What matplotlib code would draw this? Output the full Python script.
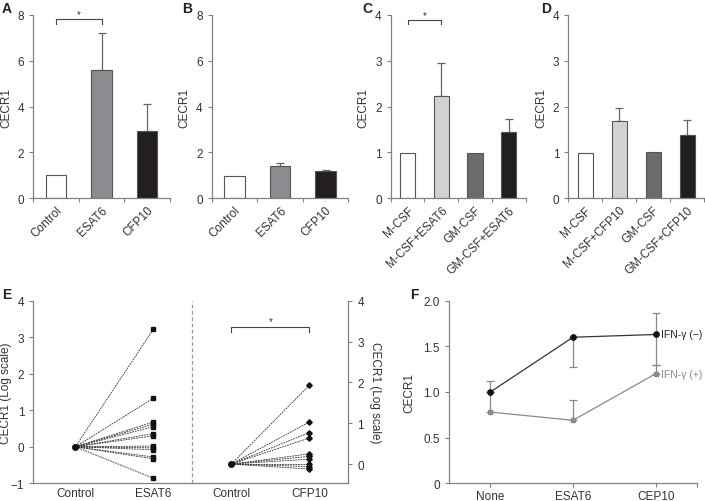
import matplotlib
matplotlib.use('Agg')
import matplotlib.pyplot as plt
import numpy as np

plt.rcParams['font.family'] = ['Liberation Sans', 'DejaVu Sans']
plt.rcParams['font.size'] = 8.5

# ---------------- data ----------------
a_cats = ['Control', 'ESAT6', 'CFP10']
a_vals = [1.0, 5.58, 2.92]
a_err = [0, 1.63, 1.18]

b_cats = ['Control', 'ESAT6', 'CFP10']
b_vals = [0.97, 1.40, 1.21]
b_err = [0, 0.13, 0.03]

c_cats = ['M-CSF', 'M-CSF+ESAT6', 'GM-CSF', 'GM-CSF+ESAT6']
c_vals = [0.98, 2.23, 0.99, 1.44]
c_err = [0, 0.72, 0, 0.30]

d_cats = ['M-CSF', 'M-CSF+CFP10', 'GM-CSF', 'GM-CSF+CFP10']
d_vals = [0.98, 1.68, 1.00, 1.38]
d_err = [0, 0.30, 0, 0.32]

e_labels = ['Control', 'ESAT6', 'Control', 'CFP10']
e_esat6 = [3.22, 1.33, 0.68, 0.62, 0.55, 0.36, 0.30, 0.02, -0.03, -0.08, -0.28, -0.33, -0.86]
e_cfp10 = [1.93, 1.03, 0.77, 0.64, 0.25, 0.19, 0.12, 0.0, -0.06, -0.12]

f_cats = ['None', 'ESAT6', 'CEP10']
f_neg = [1.0, 1.60, 1.63]
f_neg_lo = [0, 0.33, 0.33]
f_neg_hi = [0.12, 0, 0.24]
f_pos = [0.78, 0.69, 1.20]
f_pos_lo = [0, 0, 0]
f_pos_hi = [0.22, 0.22, 0.10]

W, H = 705, 502
SPINE = '#808080'
TXT = '#333333'
fig = plt.figure(figsize=(W / 100, H / 100), dpi=100)


def rect(l, r, t, b):
    return [l / W, (H - b) / H, (r - l) / W, (b - t) / H]


def style_ax(ax):
    for s in ['top', 'right']:
        ax.spines[s].set_visible(False)
    for s in ['left', 'bottom']:
        ax.spines[s].set_color(SPINE)
        ax.spines[s].set_linewidth(0.9)
    ax.tick_params(colors=SPINE, labelcolor=TXT, length=3, width=0.8, labelsize=8.5)


def bar_panel(r, cats, vals, errs, colors, ymax, yticks, sig=None):
    ax = fig.add_axes(r)
    style_ax(ax)
    n = len(cats)
    x = np.arange(n)
    ax.bar(x, vals, width=0.45, color=colors, edgecolor='#555555', linewidth=0.8, zorder=2)
    for xi, v, e in zip(x, vals, errs):
        if e > 0:
            ax.errorbar([xi], [v], yerr=[[0], [e]], fmt='none', ecolor='#666666',
                        elinewidth=0.9, capsize=3, capthick=0.9, zorder=1)
    ax.set_xlim(-0.5, n - 0.5)
    ax.set_ylim(0, ymax)
    ax.set_yticks(yticks)
    ax.set_xticks(np.arange(n + 1) - 0.5)
    ax.set_xticklabels([])
    ax.set_xticks(x, minor=True)
    ax.set_xticklabels(cats, minor=True, rotation=45, ha='right', rotation_mode='anchor')
    ax.tick_params(axis='x', which='minor', length=0, pad=4, labelcolor=TXT, labelsize=8.5)
    ax.set_ylabel('CECR1', color=TXT, fontsize=8.5, labelpad=4)
    if sig is not None:
        x0, x1, yb, yt, ys = sig
        ax.plot([x0, x0, x1, x1], [yb, yt, yt, yb], color='#444444', lw=0.8, clip_on=False)
        ax.text((x0 + x1) / 2, ys, '*', ha='center', va='center', fontsize=7, color=TXT)
    return ax


bar_panel(rect(33.3, 170, 16, 199.3), a_cats, a_vals, a_err,
          ['white', '#8b8c8f', '#231f20'], 8, [0, 2, 4, 6, 8], sig=(0, 1, 7.6, 7.83, 8.05))
bar_panel(rect(211.7, 348.3, 16, 199.3), b_cats, b_vals, b_err,
          ['white', '#8b8c8f', '#231f20'], 8, [0, 2, 4, 6, 8])
bar_panel(rect(390.7, 525.7, 16, 199.3), c_cats, c_vals, c_err,
          ['white', '#d1d2d4', '#6b6c6e', '#231f20'], 4, [0, 1, 2, 3, 4], sig=(0, 1, 3.8, 3.9, 4.0))
bar_panel(rect(568.3, 704.3, 16, 199.3), d_cats, d_vals, d_err,
          ['white', '#d1d2d4', '#6b6c6e', '#231f20'], 4, [0, 1, 2, 3, 4])

# ---------------- panel E ----------------
axE = fig.add_axes(rect(33.3, 348.3, 301.7, 484.3))
style_ax(axE)
axE.set_xlim(-0.54, 3.5)
axE.set_ylim(-1, 4)
axE.set_yticks([-1, 0, 1, 2, 3, 4])
axE.set_yticklabels(['\u22121', '0', '1', '2', '3', '4'])
axE.set_xticks([0, 1, 2, 3])
axE.set_xticklabels(e_labels)
axE.tick_params(axis='x', length=0, pad=3)
axE.set_ylabel('CECR1 (Log scale)', color=TXT, fontsize=8.5)
axE.yaxis.set_label_coords((12 - 33.3) / 315, 0.5)
dash = (0, (2.2, 1.0))
for v in e_esat6:
    axE.plot([0, 1], [0, v], ls=dash, color='#333333', lw=0.6, zorder=2)
axE.plot([1] * len(e_esat6), e_esat6, 's', color='#111111', ms=3.2, zorder=3)
axE.plot([0], [0], 'o', color='#111111', ms=4, zorder=3)
axE.axvline(1.5, color='#999999', ls=(0, (3, 2)), lw=0.9)

axE2 = axE.twinx()
for s in ['top', 'left', 'bottom']:
    axE2.spines[s].set_visible(False)
axE2.spines['right'].set_color(SPINE)
axE2.spines['right'].set_linewidth(0.9)
axE2.tick_params(colors=SPINE, labelcolor=TXT, length=3, width=0.8, labelsize=8.5)
axE2.set_ylim(-0.47, 4)
axE2.set_yticks([0, 1, 2, 3, 4])
axE2.set_ylabel('CECR1 (Log scale)', color=TXT, fontsize=8.5, rotation=270, labelpad=12)
for v in e_cfp10:
    axE2.plot([2, 3], [0, v], ls=dash, color='#333333', lw=0.6, zorder=2)
axE2.plot([3] * len(e_cfp10), e_cfp10, 'D', color='#111111', ms=2.8, zorder=3)
axE2.plot([2], [0], 'o', color='#111111', ms=4, zorder=3)
axE2.plot([2, 2, 3, 3], [3.23, 3.35, 3.35, 3.23], color='#444444', lw=0.8)
axE2.text(2.5, 3.5, '*', ha='center', va='center', fontsize=7, color=TXT)

# ---------------- panel F ----------------
axF = fig.add_axes(rect(449, 697, 301.7, 484.3))
style_ax(axF)
xf = np.arange(len(f_cats))
axF.set_xlim(-0.5, 2.5)
axF.set_ylim(0, 2)
axF.set_yticks([0, 0.5, 1.0, 1.5, 2.0])
axF.set_yticklabels(['0', '0.5', '1.0', '1.5', '2.0'])
axF.set_xticks(list(xf) + [2.5])
axF.set_xticklabels(f_cats + [''])
axF.tick_params(axis='x', pad=2)
axF.set_ylabel('CECR1', color=TXT, fontsize=8.5, labelpad=6)
axF.errorbar(xf, f_pos, yerr=[f_pos_lo, f_pos_hi], fmt='none', ecolor='#8a8a8a',
             elinewidth=0.9, capsize=3, capthick=0.9, zorder=1)
axF.errorbar(xf, f_neg, yerr=[f_neg_lo, f_neg_hi], fmt='none', ecolor='#8a8a8a',
             elinewidth=0.9, capsize=3, capthick=0.9, zorder=1)
axF.plot(xf, f_pos, '-s', color='#8a8a8a', lw=0.9, ms=3.5, zorder=2)
axF.plot(xf, f_neg, '-o', color='#333333', mfc='#111111', mec='#111111', lw=0.9, ms=3.8, zorder=3)
axF.text(2.07, f_neg[-1], 'IFN-\u03b3 (\u2212)', va='center', ha='left', fontsize=7.5, color='#222222')
axF.text(2.07, f_pos[-1], 'IFN-\u03b3 (+)', va='center', ha='left', fontsize=7.5, color='#8a8a8a')

# ---------------- panel letters ----------------
for lab, px, py in [('A', 2, 2), ('B', 182, 2), ('C', 362, 2), ('D', 541, 2), ('E', 2, 288), ('F', 410, 288)]:
    fig.text(px / W, 1 - py / H, lab, ha='left', va='top', fontsize=10, fontweight='bold', color='#222222')

fig.savefig('out.png', dpi=100)
